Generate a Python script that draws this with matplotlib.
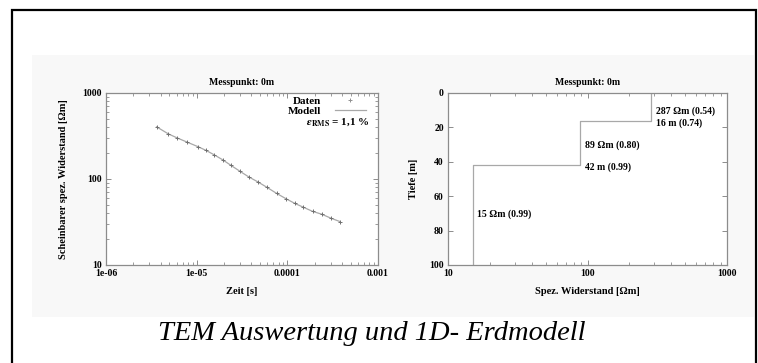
import matplotlib
matplotlib.use('Agg')
import matplotlib.pyplot as plt
from matplotlib.patches import Rectangle
from matplotlib.lines import Line2D
from matplotlib.ticker import LogLocator, FixedLocator, NullFormatter

# TEM sounding at Messpunkt 0m
zeit = [3.62e-6, 4.86e-6, 6.11e-6, 7.87e-6, 1.03e-5, 1.27e-5, 1.56e-5,
        1.94e-5, 2.39e-5, 3.00e-5, 3.74e-5, 4.78e-5, 5.96e-5, 7.62e-5,
        9.66e-5, 1.21e-4, 1.50e-4, 1.90e-4, 2.39e-4, 3.03e-4, 3.80e-4]
rho_daten = [406, 333, 302, 267, 238, 216, 192, 166, 144, 123, 106,
             92, 80, 68, 59, 52, 47, 42, 39, 35, 32]
rho_modell = [404, 335, 300, 268, 238, 215, 191, 167, 144, 123, 106,
              92, 80, 68, 59, 52, 47, 42, 39, 35, 32]
eps_rms = '1,1'

# 1D layered earth model
schicht_rho = [287, 89, 15]
schicht_rho_sig = ['0.54', '0.80', '0.99']
schicht_tiefe = [16, 42]
schicht_tiefe_sig = ['0.74', '0.99']
max_tiefe = 100

W, H = 758, 363
fig = plt.figure(figsize=(W / 100, H / 100), dpi=100)
fig.patch.set_facecolor('white')

serif = ['Liberation Serif', 'DejaVu Serif']
plt.rcParams['font.family'] = serif
plt.rcParams['font.weight'] = 'bold'
plt.rcParams['axes.labelweight'] = 'bold'
plt.rcParams['axes.titleweight'] = 'bold'
plt.rcParams['mathtext.fontset'] = 'stix'
plt.rcParams['font.size'] = 7

frame_col = '#8c8c8c'
line_col = '#a8a8a8'


def px_box(x0, y0, x1, y1):
    return [x0 / W, 1 - y1 / H, (x1 - x0) / W, (y1 - y0) / H]


# light panel behind the plots and the outer frame
fig.add_artist(Rectangle((32 / W, 1 - 317 / H), (754 - 32) / W, (317 - 55) / H,
                         transform=fig.transFigure, facecolor='#f8f8f8',
                         edgecolor='none', zorder=0))
fig.add_artist(Rectangle((12 / W, -0.05), (755.5 - 12) / W, 1 - 10.5 / H + 0.05,
                         transform=fig.transFigure, facecolor='none',
                         edgecolor='black', linewidth=1.6, zorder=5))


def style_axes(ax):
    ax.set_facecolor('white')
    for s in ax.spines.values():
        s.set_color(frame_col)
        s.set_linewidth(0.9)
    ax.tick_params(which='both', direction='in', top=True, right=True,
                   color=frame_col, labelsize=7, pad=3)
    ax.tick_params(which='major', length=3.5, width=0.7)
    ax.tick_params(which='minor', length=2, width=0.6)


# left: apparent resistivity vs time
ax1 = fig.add_axes(px_box(106, 93, 378, 265))
style_axes(ax1)
ax1.set_xscale('log')
ax1.set_yscale('log')
ax1.set_xlim(1e-6, 1e-3)
ax1.set_ylim(10, 1000)
ax1.plot(zeit, rho_modell, color=line_col, lw=0.9, zorder=2)
ax1.plot(zeit, rho_daten, ls='none', marker='+', ms=3, mew=0.7,
         color='#707070', zorder=3)
ax1.xaxis.set_major_locator(FixedLocator([1e-6, 1e-5, 1e-4, 1e-3]))
ax1.set_xticklabels(['1e-06', '1e-05', '0.0001', '0.001'])
ax1.yaxis.set_major_locator(FixedLocator([10, 100, 1000]))
ax1.set_yticklabels(['10', '100', '1000'])
ax1.xaxis.set_minor_locator(LogLocator(base=10, subs=range(2, 10)))
ax1.yaxis.set_minor_locator(LogLocator(base=10, subs=range(2, 10)))
ax1.xaxis.set_minor_formatter(NullFormatter())
ax1.yaxis.set_minor_formatter(NullFormatter())
ax1.set_title('Messpunkt: 0m', fontsize=7, pad=6)
ax1.set_xlabel('Zeit [s]', fontsize=7.5, labelpad=6)
ax1.set_ylabel('Scheinbarer spez. Widerstand [Ωm]', fontsize=7.5, labelpad=10)

handles = [Line2D([], [], ls='none', marker='+', ms=3, mew=0.7, color='#909090'),
           Line2D([], [], color=line_col, lw=0.9)]
leg = ax1.legend(handles, ['Daten', 'Modell'], loc='upper right',
                 bbox_to_anchor=(0.968, 1.0), frameon=False,
                 markerfirst=False, fontsize=8, handlelength=2.8,
                 handletextpad=1.2, borderaxespad=0.0, labelspacing=0.0,
                 borderpad=0.3)
ax1.text(0.97, 0.83, r'$\varepsilon_{\mathbf{RMS}}$' + f' = {eps_rms} %',
         transform=ax1.transAxes, ha='right', va='center', fontsize=8)

# right: layered resistivity model
ax2 = fig.add_axes(px_box(448, 93, 727, 265))
style_axes(ax2)
ax2.set_xscale('log')
ax2.set_xlim(10, 1000)
ax2.set_ylim(max_tiefe, 0)

grenzen = [0] + schicht_tiefe + [max_tiefe]
xs, ys = [], []
for i, r in enumerate(schicht_rho):
    xs += [r, r]
    ys += [grenzen[i], grenzen[i + 1]]
ax2.plot(xs, ys, color=line_col, lw=0.9)

rho_label_tiefe = [10.3, 30.2, 70.5]
for r, sig, yt in zip(schicht_rho, schicht_rho_sig, rho_label_tiefe):
    ax2.annotate(f'{r} Ωm ({sig})', xy=(r, yt), xytext=(3, 0),
                 textcoords='offset points', va='center', ha='left', fontsize=7)
for r, t, sig in zip(schicht_rho, schicht_tiefe, schicht_tiefe_sig):
    ax2.annotate(f'{t} m ({sig})', xy=(r, t + 1.3), xytext=(3, 0),
                 textcoords='offset points', va='center', ha='left', fontsize=7)

ax2.xaxis.set_major_locator(FixedLocator([10, 100, 1000]))
ax2.set_xticklabels(['10', '100', '1000'])
ax2.xaxis.set_minor_locator(LogLocator(base=10, subs=range(2, 10)))
ax2.xaxis.set_minor_formatter(NullFormatter())
ax2.yaxis.set_major_locator(FixedLocator([0, 20, 40, 60, 80, 100]))
ax2.set_title('Messpunkt: 0m', fontsize=7, pad=6)
ax2.set_xlabel('Spez. Widerstand [Ωm]', fontsize=7.5, labelpad=6)
ax2.set_ylabel('Tiefe [m]', fontsize=7.5, labelpad=8)

fig.text(372 / W, 1 - 334 / H, 'TEM Auswertung und 1D- Erdmodell',
         ha='center', va='center', fontsize=20.5, style='italic',
         fontweight='normal', family=serif)

fig.savefig('out.png', dpi=100, facecolor='white')
